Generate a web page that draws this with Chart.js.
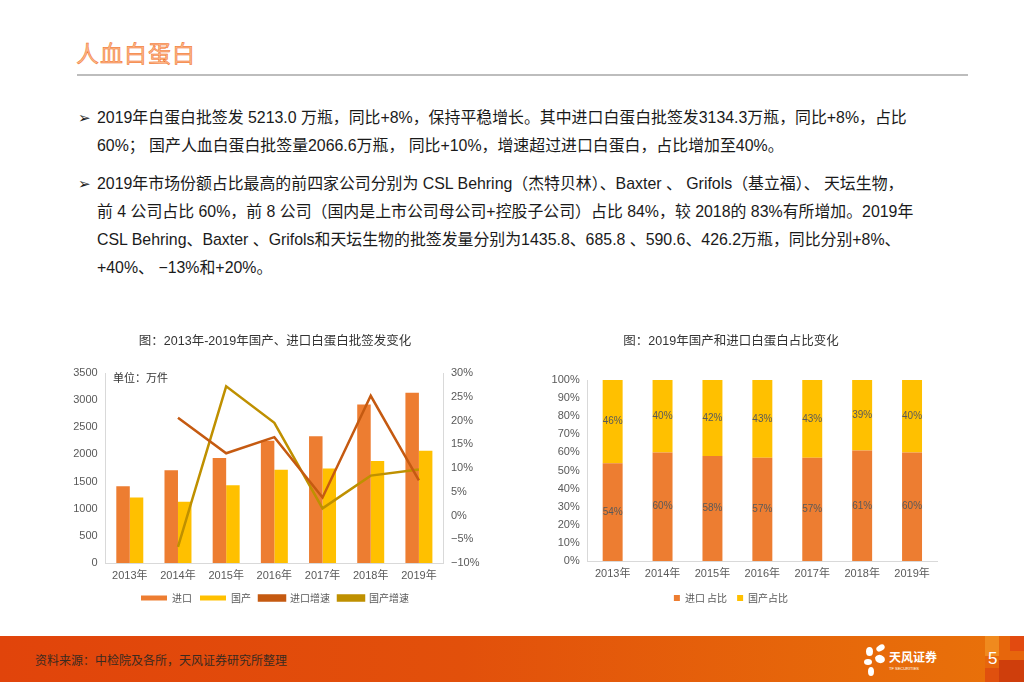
<!DOCTYPE html>
<html>
<head>
<meta charset="utf-8">
<script src="https://cdn.jsdelivr.net/npm/chart.js@4.4.0/dist/chart.umd.min.js"></script>
<style>
  html,body{margin:0;padding:0;background:#fff;}
  body{width:1024px;height:682px;position:relative;overflow:hidden;font-family:"Liberation Sans","Noto Sans CJK SC",sans-serif;}
  .abs{position:absolute;white-space:nowrap;}
  .head{left:76px;top:36px;font-family:"Noto Sans CJK SC";font-size:23px;color:#FBB889;-webkit-text-stroke:0.5px #F26B1D;letter-spacing:1px;line-height:32px;}
  .rule{left:77px;top:74px;width:891px;height:2px;background:#BDBDBD;}
  .ln{font-size:15.9px;color:#1a1a1a;line-height:20px;}
  .bul{font-size:15px;color:#1a1a1a;line-height:20px;}
  .footer{left:0;top:636px;width:1024px;height:46px;background:linear-gradient(to right,#E1440B 0%,#E2500B 45%,#E76A0A 85%,#E9720A 100%);}
  .src{left:35px;top:651px;font-family:"Noto Sans CJK SC";font-size:12px;color:#3a2a20;line-height:18px;}
</style>
</head>
<body>
<div class="abs head">人血白蛋白</div>
<div class="abs rule"></div>

<div class="abs bul" style="left:78px;top:108px;">➢</div>
<div class="abs ln" style="left:97px;top:108px;">2019年白蛋白批签发 5213.0 万瓶，同比+8%，保持平稳增长。其中进口白蛋白批签发3134.3万瓶，同比+8%，占比</div>
<div class="abs ln" style="left:97px;top:136px;">60%； 国产人血白蛋白批签量2066.6万瓶， 同比+10%，增速超过进口白蛋白，占比增加至40%。</div>
<div class="abs bul" style="left:78px;top:174px;">➢</div>
<div class="abs ln" style="left:97px;top:174px;">2019年市场份额占比最高的前四家公司分别为 CSL Behring（杰特贝林）、Baxter 、 Grifols（基立福）、 天坛生物，</div>
<div class="abs ln" style="left:97px;top:202px;">前 4 公司占比 60%，前 8 公司（国内是上市公司母公司+控股子公司）占比 84%，较 2018的 83%有所增加。2019年</div>
<div class="abs ln" style="left:97px;top:230px;">CSL Behring、Baxter 、Grifols和天坛生物的批签发量分别为1435.8、685.8 、590.6、426.2万瓶，同比分别+8%、</div>
<div class="abs ln" style="left:97px;top:258px;">+40%、 −13%和+20%。</div>

<div class="abs" style="left:50px;top:325px;width:450px;height:290px;"><canvas id="c1"></canvas></div>
<div class="abs" style="left:113px;top:370px;font-size:11px;color:#333;font-family:'Noto Sans CJK SC';line-height:14px;">单位：万件</div>
<div class="abs" style="left:525px;top:325px;width:430px;height:290px;"><canvas id="c2"></canvas></div>

<div class="abs footer"></div>
<div class="abs" style="left:985px;top:636px;width:39px;height:46px;background:#E7660C;"></div>
<div class="abs" style="left:985px;top:636px;width:14px;height:20px;background:#F08A1E;"></div>
<div class="abs" style="left:1010px;top:636px;width:14px;height:15px;background:#E24A10;"></div>
<div class="abs" style="left:999px;top:660px;width:25px;height:22px;background:#CF3E0C;"></div>
<div class="abs" style="left:985px;top:668px;width:14px;height:14px;background:#E0500E;"></div>
<div class="abs src">资料来源：中检院及各所，天风证券研究所整理</div>
<div class="abs" style="left:866px;top:647px;width:7px;height:9px;background:#fff;border-radius:50%;"></div>
<div class="abs" style="left:876px;top:645px;width:9px;height:6px;background:#fff;border-radius:50%;transform:rotate(-30deg);"></div>
<div class="abs" style="left:864px;top:659px;width:8px;height:6px;background:#fff;border-radius:50%;"></div>
<div class="abs" style="left:875px;top:655px;width:10px;height:8px;background:#fff;border-radius:50%;transform:rotate(20deg);"></div>
<div class="abs" style="left:868px;top:667px;width:6px;height:9px;background:#fff;border-radius:50%;"></div>
<div class="abs" style="left:889px;top:650px;font-family:'Noto Sans CJK SC';font-weight:bold;font-size:12px;color:#fff;line-height:14px;">天风证券</div>
<div class="abs" style="left:889px;top:666px;font-size:4px;color:#fff;line-height:5px;">TF SECURITIES</div>
<div class="abs" style="left:988px;top:649px;font-size:17px;color:#fff;line-height:20px;">5</div>

<script>
// ---- data ----
const years = ['2013年','2014年','2015年','2016年','2017年','2018年','2019年'];
const importVol = [1414, 1710, 1935, 2252, 2333, 2920, 3134];
const domesticVol = [1208, 1128, 1432, 1717, 1743, 1877, 2067];
const importGrowth = [null, 20.6, 13.1, 16.5, 3.8, 25.2, 7.4];
const domesticGrowth = [null, -6.6, 27.2, 19.5, 1.5, 8.4, 9.7];
const importShare = [54, 60, 58, 57, 57, 61, 60];
const domesticShare = [46, 40, 42, 43, 43, 39, 40];
const volAxis = {min: 0, max: 3500, step: 500};
const growthAxis = {min: -10, max: 30, step: 5};
const shareAxis = {min: 0, max: 100, step: 10};

const FONT = '"Liberation Sans","Noto Sans CJK SC",sans-serif';
const CJK = '"Noto Sans CJK SC","Liberation Sans",sans-serif';
const TICK = '#595959';
const AXIS = '#D9D9D9';
const ORANGE = '#ED7D31', GOLD = '#FFC000', DKORANGE = '#C55A11', DKGOLD = '#BF9000';

Chart.defaults.animation = false;
Chart.defaults.responsive = true;
Chart.defaults.maintainAspectRatio = false;

const pct = v => (v < 0 ? '\u2212' + Math.abs(v) : v) + '%';

new Chart(document.getElementById('c1'), {
  data: {
    labels: years,
    datasets: [
      {type:'bar', label:'进口', data: importVol, backgroundColor: ORANGE, yAxisID:'y', order:2, categoryPercentage:0.56, barPercentage:1},
      {type:'bar', label:'国产', data: domesticVol, backgroundColor: GOLD, yAxisID:'y', order:2, categoryPercentage:0.56, barPercentage:1},
      {type:'line', label:'进口增速', data: importGrowth, borderColor: DKORANGE, backgroundColor: DKORANGE, borderWidth:2.5, pointRadius:0, yAxisID:'y1', order:1, tension:0},
      {type:'line', label:'国产增速', data: domesticGrowth, borderColor: DKGOLD, backgroundColor: DKGOLD, borderWidth:2.5, pointRadius:0, yAxisID:'y1', order:1, tension:0}
    ]
  },
  options: {
    layout: {padding: {left: 0, right: 0, bottom: 2}},
    plugins: {
      title: {display:true, text:'图：2013年-2019年国产、进口白蛋白批签发变化', color:'#333', font:{family:FONT, size:12.5, weight:'normal'}, padding:{top:9, bottom:24}},
      legend: {position:'bottom', labels:{boxWidth:26, boxHeight:5, padding:8, color:TICK, font:{family:CJK, size:10},
               sort:(a,b) => a.datasetIndex - b.datasetIndex}},
      tooltip: {enabled:false}
    },
    scales: {
      x: {grid:{display:false, drawTicks:false}, border:{display:true, color:AXIS}, ticks:{color:TICK, font:{family:FONT, size:11}, padding:6},
          afterFit: s => { s.height = 22; }},
      y: {position:'left', min:volAxis.min, max:volAxis.max, ticks:{stepSize:volAxis.step, color:TICK, font:{family:FONT, size:11}, padding:8, callback: v => String(v)},
          grid:{display:false, drawTicks:false}, border:{display:true, color:AXIS},
          afterFit: s => { s.width = 55.7; }},
      y1: {position:'right', min:growthAxis.min, max:growthAxis.max, ticks:{stepSize:growthAxis.step, color:TICK, font:{family:FONT, size:11}, padding:8, callback: pct},
          grid:{display:false, drawTicks:false}, border:{display:true, color:AXIS},
          afterFit: s => { s.width = 57; }}
    }
  }
});

const centerLabels = {
  id: 'centerLabels',
  afterDatasetsDraw(chart) {
    const ctx = chart.ctx;
    ctx.save();
    ctx.font = '10px ' + FONT;
    ctx.fillStyle = '#595959';
    ctx.textAlign = 'center';
    ctx.textBaseline = 'middle';
    chart.data.datasets.forEach((ds, i) => {
      chart.getDatasetMeta(i).data.forEach((el, j) => {
        ctx.fillText(ds.data[j] + '%', el.x, (el.y + el.base) / 2);
      });
    });
    ctx.restore();
  }
};

new Chart(document.getElementById('c2'), {
  type: 'bar',
  data: {
    labels: years,
    datasets: [
      {label:'进口 占比', data: importShare, backgroundColor: ORANGE, categoryPercentage:1, barPercentage:0.4},
      {label:'国产占比', data: domesticShare, backgroundColor: GOLD, categoryPercentage:1, barPercentage:0.4}
    ]
  },
  options: {
    layout: {padding: {left: 0, right: 18, bottom: 2}},
    plugins: {
      title: {display:true, text:'图：2019年国产和进口白蛋白占比变化', color:'#333', font:{family:FONT, size:12.5, weight:'normal'}, padding:{top:9, bottom:31}},
      legend: {position:'bottom', labels:{boxWidth:6, boxHeight:6, padding:10, color:TICK, font:{family:CJK, size:10}}},
      tooltip: {enabled:false}
    },
    scales: {
      x: {stacked:true, grid:{display:false, drawTicks:false}, border:{display:true, color:AXIS}, ticks:{color:TICK, font:{family:FONT, size:11}, padding:6},
          afterFit: s => { s.height = 22; }},
      y: {stacked:true, min:shareAxis.min, max:shareAxis.max, ticks:{stepSize:shareAxis.step, color:TICK, font:{family:FONT, size:11}, padding:8, callback: v => v + '%'},
          grid:{display:false, drawTicks:false}, border:{display:true, color:AXIS},
          afterFit: s => { s.width = 62.7; }}
    }
  },
  plugins: [centerLabels]
});
</script>
</body>
</html>
